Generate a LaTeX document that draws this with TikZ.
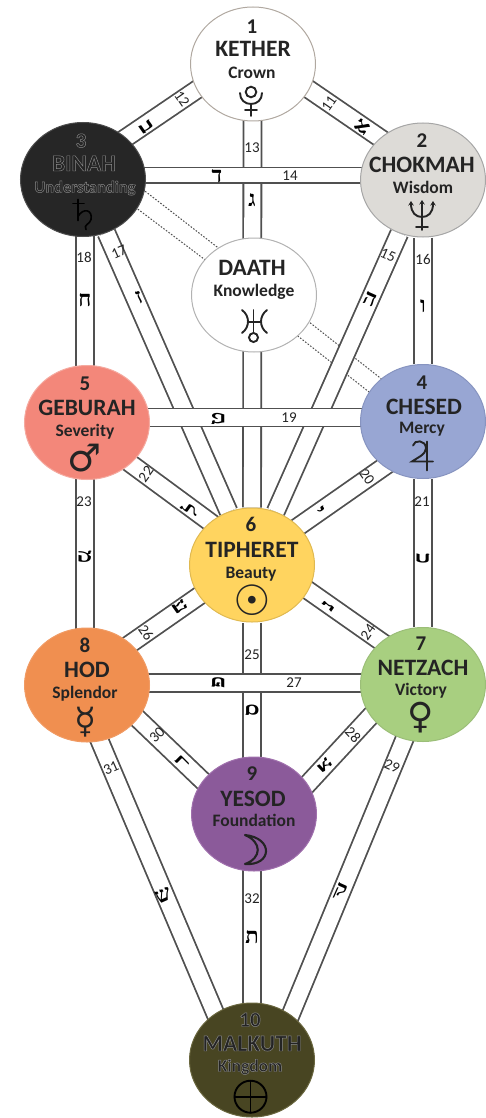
\documentclass[tikz,border=0pt]{standalone}
\usepackage{fontspec}
\usetikzlibrary{shapes.geometric,calc,arrows.meta}
\setmainfont{Carlito}
\newfontfamily\hebfont[Script=Hebrew]{Liberation Serif}
\newfontfamily\symfont{DejaVu Sans}
\pgfdeclarelayer{paths}
\pgfsetlayers{paths,main}
\definecolor{ink}{HTML}{242424}
\definecolor{rail}{HTML}{505050}
\definecolor{ketherline}{RGB}{176,168,160}
\definecolor{chokmahfill}{RGB}{221,219,215}
\definecolor{geburahline}{RGB}{245,170,160}
\definecolor{geburahfill}{RGB}{243,135,122}
\definecolor{chesedline}{RGB}{135,148,192}
\definecolor{chesedfill}{RGB}{152,166,211}
\definecolor{tiphline}{RGB}{224,185,80}
\definecolor{tiphfill}{RGB}{255,212,95}
\definecolor{hodline}{RGB}{240,155,100}
\definecolor{hodfill}{RGB}{240,143,80}
\definecolor{netzachline}{RGB}{155,190,120}
\definecolor{netzachfill}{RGB}{168,207,128}
\definecolor{yesodline}{RGB}{160,112,173}
\definecolor{yesodfill}{RGB}{139,90,154}
\definecolor{malkuthline}{RGB}{105,102,62}
\definecolor{malkuthfill}{RGB}{72,69,34}
\newcommand{\outl}[1]{\special{pdf:code 2 Tr 0.45 w 0.55 G}#1\special{pdf:code 0 Tr 1 w 0 G}}
\tikzset{
  x=1pt,y=-1pt,
  sefira/.style={ellipse,draw=#1,line width=1pt,inner sep=0pt,minimum width=125pt,minimum height=114pt},
  numtxt/.style={anchor=base,inner sep=0pt,text=ink,font=\bfseries\fontsize{21}{21}\selectfont},
  titletxt/.style={anchor=base,inner sep=0pt,text=ink,font=\bfseries\fontsize{23.5}{23.5}\selectfont},
  subtxt/.style={anchor=base,inner sep=0pt,text=ink,font=\bfseries\fontsize{17.5}{17.5}\selectfont},
  symtxt/.style={inner sep=0pt,text=ink,font=\symfont\fontsize{#1}{#1}\selectfont},
  sigil/.style={draw=#1,line width=1.9pt,line cap=round},
  sigil/.default=ink,
  pathway/.style={draw=rail,line width=1.8pt,double=white,double distance=16.2pt},
  thinway/.style={draw=rail,line width=1.8pt,double=white,double distance=14pt},
  veil/.style={draw=rail,line width=1pt,dash pattern=on 1.6pt off 1.6pt},
  pathnum/.style={inner sep=0pt,text=ink,font=\fontsize{15}{15}\selectfont,rotate=#1},
  pathnum/.default=0,
  letter/.style={inner sep=0pt,text=black,font=\hebfont\bfseries\fontsize{22}{22}\selectfont,rotate=#1},
  letter/.default=0
}
\begin{document}
\begin{tikzpicture}
\useasboundingbox (0,0) rectangle (485,1118);
% spheres
\node[sefira=ketherline,fill=white] (kether) at (253,64) {};
\node[sefira={black!70},fill=black!85] (binah) at (83,179.5) {};
\node[sefira={gray!70},fill=chokmahfill] (chokmah) at (423,180) {};
\node[sefira={gray!60},fill=white] (daath) at (254,295) {};
\node[sefira=geburahline,fill=geburahfill] (geburah) at (87,422.5) {};
\node[sefira=chesedline,fill=chesedfill] (chesed) at (423,421.5) {};
\node[sefira=tiphline,fill=tiphfill] (tiph) at (252,565) {};
\node[sefira=hodline,fill=hodfill] (hod) at (87,685) {};
\node[sefira=netzachline,fill=netzachfill] (netzach) at (423,684.5) {};
\node[sefira=yesodline,fill=yesodfill] (yesod) at (254,814) {};
\node[sefira=malkuthline,fill=malkuthfill] (malkuth) at (252,1060) {};
% sphere texts
\node[numtxt] (t1a) at (252,33.5) {1};
\node[titletxt] (t1b) at (253,57) {KETHER};
\node[subtxt] (t1c) at (252,78.5) {Crown};
\node[numtxt] (t3a) at (81,147.5) {\outl{3}};
\node[titletxt] (t3b) at (84,171) {\outl{BINAH}};
\node[subtxt,font=\bfseries\fontsize{16.5}{16.5}\selectfont] (t3c) at (85,192.5) {\outl{Understanding}};
\node[numtxt] (t2a) at (422,147.5) {2};
\node[titletxt] (t2b) at (422,172) {CHOKMAH};
\node[subtxt] (t2c) at (423,193.5) {Wisdom};
\node[titletxt] (tdb) at (252,275) {DAATH};
\node[subtxt] (tdc) at (254,296.5) {Knowledge};
\node[numtxt] (t5a) at (85,390.5) {5};
\node[titletxt] (t5b) at (87,415) {GEBURAH};
\node[subtxt] (t5c) at (85,436.5) {Severity};
\node[symtxt=38] (t5d) at (85,458) {♂};
\node[numtxt] (t4a) at (422,389.5) {4};
\node[titletxt] (t4b) at (424,414) {CHESED};
\node[subtxt] (t4c) at (422,433.5) {Mercy};
\node[numtxt] (t6a) at (251,531.5) {6};
\node[titletxt] (t6b) at (252,557) {TIPHERET};
\node[subtxt] (t6c) at (251,578.5) {Beauty};
\node[symtxt=42] (t6d) at (252,600) {☉};
\node[numtxt] (t8a) at (85,652.5) {8};
\node[titletxt] (t8b) at (87,677) {HOD};
\node[subtxt] (t8c) at (85,698.5) {Splendor};
\node[symtxt=36] (t8d) at (86,722) {☿};
\node[numtxt] (t7a) at (421,650.5) {7};
\node[titletxt] (t7b) at (423,675) {NETZACH};
\node[subtxt] (t7c) at (421,695.5) {Victory};
\node[symtxt=36] (t7d) at (421,718) {♀};
\node[numtxt] (t9a) at (252,780.5) {9};
\node[titletxt] (t9b) at (253,806) {YESOD};
\node[subtxt] (t9c) at (254,826.5) {Foundation};
\node[numtxt] (t10a) at (250,1026.5) {\outl{10}};
\node[titletxt] (t10b) at (252,1051) {\outl{MALKUTH}};
\node[subtxt] (t10c) at (250,1071.5) {\outl{Kingdom}};
% planetary signs drawn as shapes
\begin{scope}[shift={(kether.center)}]
  \draw[sigil] (-2,28) circle (5.3);
  \draw[sigil] (-13,29) .. controls (-13,36) and (-8,40) .. (-2,40) .. controls (4,40) and (9,36) .. (9,29);
  \draw[sigil] (-2,40) -- (-2,52) (-8,46) -- (4,46);
\end{scope}
\begin{scope}[shift={(binah.center)}]
  \draw[sigil=black,line width=1.6pt] (-5,20) -- (-5,41) (-10,24) -- (1,24);
  \draw[sigil=black,line width=1.6pt] (-5,37) .. controls (0,28) and (10,30) .. (8,40) .. controls (7,45) and (0,45) .. (3,50);
\end{scope}
\begin{scope}[shift={(chokmah.center)}]
  \draw[sigil,-{Stealth[length=4.5pt,width=5.5pt]}] (-1,50) -- (-1,20);
  \draw[sigil,{Stealth[length=4.5pt,width=5.5pt]}-{Stealth[length=4.5pt,width=5.5pt]}] (-12,21) .. controls (-12,33) and (-7,37) .. (-1,37) .. controls (5,37) and (10,33) .. (10,21);
  \draw[sigil] (-7,47) -- (5,47);
\end{scope}
\begin{scope}[shift={(daath.center)}]
  \draw[sigil] (-12,15) .. controls (-4,21) and (-4,32) .. (-12,38);
  \draw[sigil] (13,15) .. controls (5,21) and (5,32) .. (13,38);
  \draw[sigil] (-6,27) -- (6,27) (-0.5,15) -- (-0.5,38);
  \draw[sigil] (-0.5,42.5) circle (4.5);
\end{scope}
\begin{scope}[shift={(chesed.center)}]
  \draw[sigil] (-10,24) .. controls (-9,18) and (3,18) .. (3,27) .. controls (3,33) and (-7,37) .. (-11,40) -- (10,40);
  \draw[sigil] (4,20) -- (4,49);
\end{scope}
\begin{scope}[shift={(yesod.center)}]
  \draw[sigil,line join=round,line width=2.1pt] (-9,21) .. controls (20,24) and (18,52) .. (-9,50) .. controls (8,44) and (8,28) .. (-9,21) -- cycle;
\end{scope}
\begin{scope}[shift={(malkuth.center)}]
  \draw[sigil=black] (-1.5,36.7) circle (16);
  \draw[sigil=black] (-17.5,36.7) -- (14.5,36.7) (-1.5,20.7) -- (-1.5,52.7);
\end{scope}
% pathways
\begin{pgfonlayer}{paths}
\draw[veil] ($(binah)+(47,0)$) -- ($(daath)+(-24,-38)$);
\draw[veil] ($(binah)+(42,20)$) -- ($(daath)+(-34,-24)$);
\draw[veil] ($(daath)+(36,12)$) -- ($(chesed)+(-23,-28)$);
\draw[veil] ($(daath)+(31,31)$) -- ($(chesed)+(-38,-17)$);
\draw[pathway] ($(kether)+(-0.5,0)$) -- (tiph);
\draw[pathway] (binah) -- (tiph);
\draw[pathway] (chokmah) -- (tiph);
\draw[pathway] ($(kether)+(0,-12.5)$) -- ($(binah)+(0,-12.5)$);
\draw[pathway] ($(kether)+(0,-13)$) -- ($(chokmah)+(0,-12.5)$);
\draw[pathway] ($(binah)+(2,0)$) -- ($(geburah)+(-2,0)$);
\draw[pathway] (chokmah) -- (chesed);
\draw[pathway] ($(chesed)+(0,18)$) -- ($(tiph)+(0,-6)$);
\draw[pathway] (chesed) -- (netzach);
\draw[pathway] ($(geburah)+(0,9)$) -- ($(tiph)+(0,-12)$);
\draw[pathway] ($(geburah)+(-2,0)$) -- ($(hod)+(-2,0)$);
\draw[pathway] ($(tiph)+(0,-14)$) -- ($(netzach)+(0,-13.5)$);
\draw[pathway] ($(tiph)+(0,-6)$) -- ($(hod)+(0,-11)$);
\draw[pathway] (tiph) -- (malkuth);
\draw[pathway] ($(hod)+(0,-15)$) -- ($(yesod)+(0,16)$);
\draw[pathway] ($(netzach)+(0,-25)$) -- ($(yesod)+(0,28)$);
\draw[pathway] ($(hod)+(-11,0)$) -- ($(malkuth)+(-17,0)$);
\draw[pathway] ($(netzach)+(4,0)$) -- ($(malkuth)+(20,0)$);
\draw[thinway] ($(binah)+(0,-4)$) -- ($(chokmah)+(0,-4.5)$);
\draw[pathway] ($(geburah)+(0,-5)$) -- ($(chesed)+(0,-4)$);
\draw[pathway] ($(hod)+(0,-2)$) -- ($(netzach)+(0,-1.5)$);
\end{pgfonlayer}
% pathway labels
\node[pathnum=55] (n11) at (329,104) {11};
\node[letter=55] (l11) at (362,127) {א};
\node[pathnum=-55] (n12) at (182,99) {12};
\node[letter=-55] (l12) at (147,127) {ב};
\node[pathnum] (n13) at (252,148) {13};
\node[letter] (l13) at (252,200) {ג};
\node[pathnum] (n14) at (290,176) {14};
\node[letter] (l14) at (217,176) {ד};
\node[pathnum=-24] (n15) at (388,255) {15};
\node[letter=-24] (l15) at (370,299) {ה};
\node[pathnum] (n16) at (423,259) {16};
\node[letter] (l16) at (423,306) {ו};
\node[pathnum=24] (n17) at (119,252) {17};
\node[letter=24] (l17) at (139,297) {ז};
\node[pathnum] (n18) at (84,257) {18};
\node[letter] (l18) at (85,300) {ח};
\node[pathnum] (n19) at (289,418) {19};
\node[letter=90] (l19) at (218,419) {ט};
\node[pathnum=-55] (n20) at (367,477) {20};
\node[letter=-55] (l20) at (319,511) {י};
\node[pathnum] (n21) at (422,502) {21};
\node[letter=-90] (l21) at (423,559) {כ};
\node[pathnum=54] (n22) at (146,474) {22};
\node[letter=54] (l22) at (190,509) {ל};
\node[pathnum] (n23) at (84,502) {23};
\node[letter=-90] (l23) at (85,557) {מ};
\node[pathnum=55] (n24) at (368,632) {24};
\node[letter=55] (l24) at (328,606) {נ};
\node[pathnum] (n25) at (252,655) {25};
\node[letter=90] (l25) at (252,710) {ס};
\node[pathnum=-55] (n26) at (146,633) {26};
\node[letter=-55] (l26) at (180,607) {ע};
\node[pathnum] (n27) at (294,683) {27};
\node[letter=90] (l27) at (218,683) {פ};
\node[pathnum=-47] (n28) at (353,735) {28};
\node[letter=-47] (l28) at (325,765) {צ};
\node[pathnum=-24] (n29) at (392,766) {29};
\node[letter=-24] (l29) at (340,892) {ק};
\node[pathnum=45] (n30) at (157,735) {30};
\node[letter=45] (l30) at (183,762) {ר};
\node[pathnum=24] (n31) at (111,768) {31};
\node[letter=24] (l31) at (163,895) {ש};
\node[pathnum] (n32) at (252,899) {32};
\node[letter] (l32) at (252,937) {ת};
\end{tikzpicture}
\end{document}
